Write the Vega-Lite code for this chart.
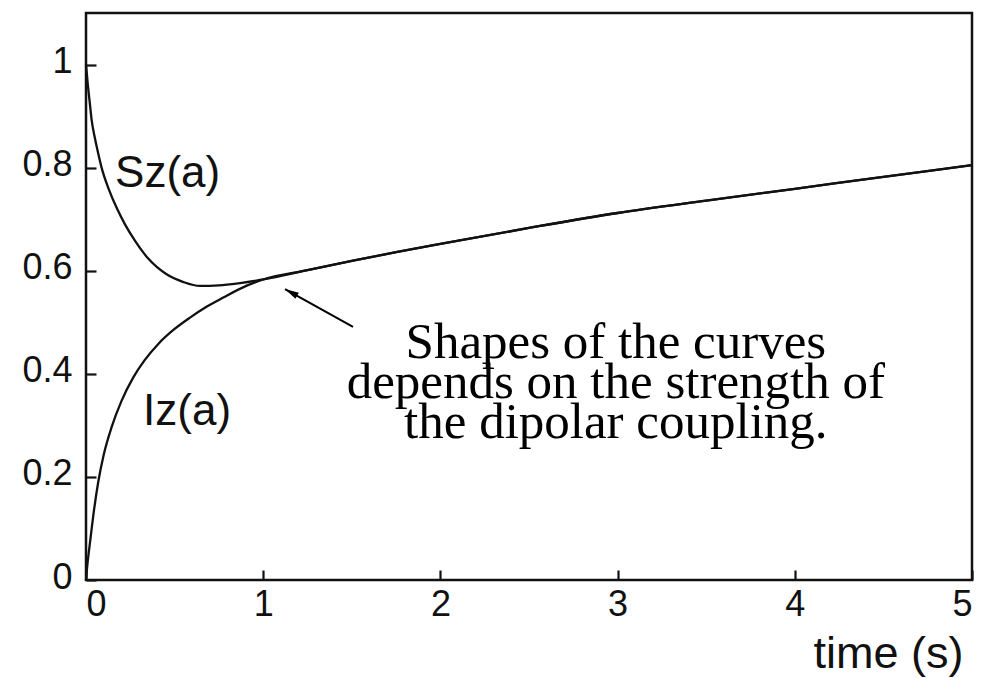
{
  "$schema": "https://vega.github.io/schema/vega-lite/v6.json",
  "width": 886,
  "height": 567,
  "autosize": {"type": "none"},
  "padding": {"left": 86, "top": 13, "right": 25, "bottom": 98},
  "background": "white",
  "config": {
    "view": {"stroke": "#111", "strokeWidth": 2.5},
    "axis": {
      "domain": false,
      "grid": false,
      "ticks": true,
      "tickSize": 10,
      "tickWidth": 2.2,
      "tickColor": "#111",
      "offset": -10,
      "labelFont": "Liberation Sans",
      "labelFontSize": 36,
      "labelColor": "#111",
      "titleFont": "Liberation Sans",
      "titleFontWeight": "normal",
      "titleColor": "#111"
    }
  },
  "datasets": {
    "curves": [
      {"series": "Sz", "t": 0, "v": 1.0},
      {"series": "Sz", "t": 0.01, "v": 0.962},
      {"series": "Sz", "t": 0.02, "v": 0.93},
      {"series": "Sz", "t": 0.032, "v": 0.892},
      {"series": "Sz", "t": 0.051, "v": 0.856},
      {"series": "Sz", "t": 0.07, "v": 0.826},
      {"series": "Sz", "t": 0.088, "v": 0.8},
      {"series": "Sz", "t": 0.13, "v": 0.757},
      {"series": "Sz", "t": 0.173, "v": 0.722},
      {"series": "Sz", "t": 0.22, "v": 0.69},
      {"series": "Sz", "t": 0.277, "v": 0.658},
      {"series": "Sz", "t": 0.35, "v": 0.624},
      {"series": "Sz", "t": 0.455, "v": 0.593},
      {"series": "Sz", "t": 0.55, "v": 0.578},
      {"series": "Sz", "t": 0.643, "v": 0.5705},
      {"series": "Sz", "t": 0.75, "v": 0.5715},
      {"series": "Sz", "t": 0.87, "v": 0.576},
      {"series": "Sz", "t": 1.0, "v": 0.583},
      {"series": "Sz", "t": 1.25, "v": 0.601},
      {"series": "Sz", "t": 1.5, "v": 0.619},
      {"series": "Sz", "t": 1.75, "v": 0.636},
      {"series": "Sz", "t": 2.0, "v": 0.652},
      {"series": "Sz", "t": 2.5, "v": 0.683},
      {"series": "Sz", "t": 3.0, "v": 0.712},
      {"series": "Sz", "t": 3.5, "v": 0.736},
      {"series": "Sz", "t": 4.0, "v": 0.759},
      {"series": "Sz", "t": 4.5, "v": 0.782},
      {"series": "Sz", "t": 5.0, "v": 0.805},
      {"series": "Iz", "t": 0, "v": 0.0},
      {"series": "Iz", "t": 0.005, "v": 0.02},
      {"series": "Iz", "t": 0.01, "v": 0.037},
      {"series": "Iz", "t": 0.023, "v": 0.074},
      {"series": "Iz", "t": 0.045, "v": 0.135},
      {"series": "Iz", "t": 0.069, "v": 0.19},
      {"series": "Iz", "t": 0.1, "v": 0.243},
      {"series": "Iz", "t": 0.145, "v": 0.297},
      {"series": "Iz", "t": 0.2, "v": 0.347},
      {"series": "Iz", "t": 0.267, "v": 0.393},
      {"series": "Iz", "t": 0.33, "v": 0.426},
      {"series": "Iz", "t": 0.408, "v": 0.458},
      {"series": "Iz", "t": 0.5, "v": 0.487},
      {"series": "Iz", "t": 0.587, "v": 0.509},
      {"series": "Iz", "t": 0.68, "v": 0.53},
      {"series": "Iz", "t": 0.775, "v": 0.548},
      {"series": "Iz", "t": 0.907, "v": 0.571},
      {"series": "Iz", "t": 1.0, "v": 0.583},
      {"series": "Iz", "t": 1.25, "v": 0.601},
      {"series": "Iz", "t": 1.5, "v": 0.619},
      {"series": "Iz", "t": 1.75, "v": 0.636},
      {"series": "Iz", "t": 2.0, "v": 0.652},
      {"series": "Iz", "t": 2.5, "v": 0.683},
      {"series": "Iz", "t": 3.0, "v": 0.712},
      {"series": "Iz", "t": 3.5, "v": 0.736},
      {"series": "Iz", "t": 4.0, "v": 0.759},
      {"series": "Iz", "t": 4.5, "v": 0.782},
      {"series": "Iz", "t": 5.0, "v": 0.805}
    ],
    "curveLabels": [
      {"t": 0.164, "v": 0.763, "label": "Sz(a)"},
      {"t": 0.322, "v": 0.301, "label": "Iz(a)"}
    ],
    "note": [
      {"t": 2.99, "v": 0.43, "label": "Shapes of the curves\ndepends on the strength of\nthe dipolar coupling."}
    ],
    "arrow": [
      {"t": 1.507, "v": 0.491, "t2": 1.123, "v2": 0.5645, "ht": 1.157, "hv": 0.558}
    ]
  },
  "layer": [
    {
      "data": {"name": "curves"},
      "mark": {"type": "line", "interpolate": "monotone", "color": "#111", "strokeWidth": 2.3},
      "encoding": {
        "x": {
          "field": "t", "type": "quantitative",
          "scale": {"domain": [0, 5], "nice": false, "zero": false},
          "axis": {
            "values": [0, 1, 2, 3, 4, 5],
            "format": "~g",
            "labelPadding": 7,
            "title": "time (s)",
            "titleFontSize": 45,
            "titleX": 877,
            "titleY": 97,
            "titleAlign": "right",
            "titleBaseline": "alphabetic",
            "titleAnchor": "end"
          }
        },
        "y": {
          "field": "v", "type": "quantitative",
          "scale": {"domain": [0, 1.1], "nice": false},
          "axis": {
            "values": [0, 0.2, 0.4, 0.6, 0.8, 1],
            "format": "~g",
            "labelPadding": 14,
            "labelOffset": -3,
            "title": null
          }
        },
        "detail": {"field": "series", "type": "nominal"}
      }
    },
    {
      "data": {"name": "curveLabels"},
      "mark": {"type": "text", "font": "Liberation Sans", "fontSize": 44, "align": "left", "baseline": "alphabetic", "color": "#111"},
      "encoding": {
        "x": {"field": "t", "type": "quantitative"},
        "y": {"field": "v", "type": "quantitative"},
        "text": {"field": "label", "type": "nominal"}
      }
    },
    {
      "data": {"name": "note"},
      "mark": {"type": "text", "font": "Liberation Serif", "fontSize": 51, "lineHeight": 40, "lineBreak": "\n", "align": "center", "baseline": "alphabetic", "color": "#000"},
      "encoding": {
        "x": {"field": "t", "type": "quantitative"},
        "y": {"field": "v", "type": "quantitative"},
        "text": {"field": "label", "type": "nominal"}
      }
    },
    {
      "data": {"name": "arrow"},
      "mark": {"type": "rule", "color": "#000", "strokeWidth": 2},
      "encoding": {
        "x": {"field": "t", "type": "quantitative"},
        "y": {"field": "v", "type": "quantitative"},
        "x2": {"field": "t2"},
        "y2": {"field": "v2"}
      }
    },
    {
      "data": {"name": "arrow"},
      "mark": {"type": "point", "shape": "M0,-1L0.5,1L-0.5,1Z", "filled": true, "color": "#000", "opacity": 1, "size": 196, "angle": 299},
      "encoding": {
        "x": {"field": "ht", "type": "quantitative"},
        "y": {"field": "hv", "type": "quantitative"}
      }
    }
  ]
}
